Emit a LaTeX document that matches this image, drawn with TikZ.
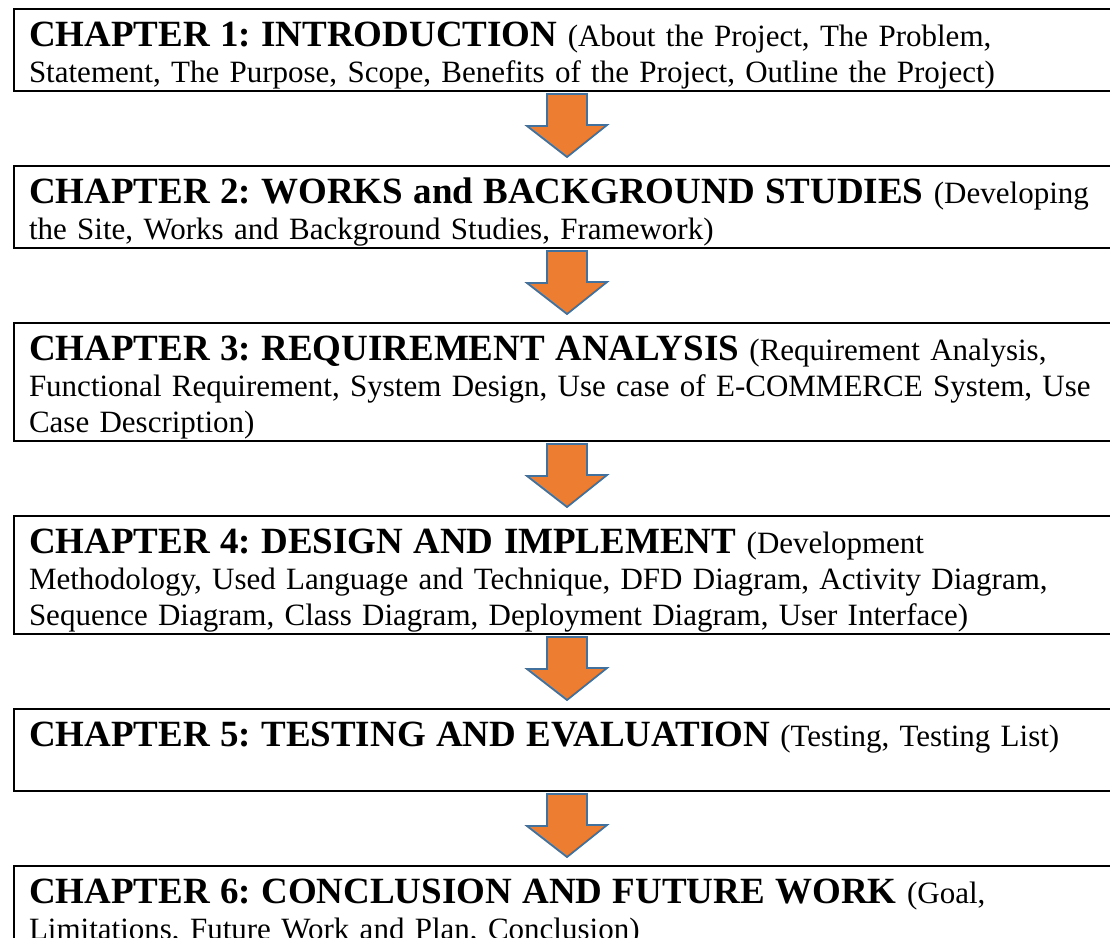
\documentclass[tikz,border=0pt]{standalone}
\usepackage{fontspec}
\setmainfont{Liberation Serif}
\usepackage{xcolor}
\usepackage{tikz}
\usetikzlibrary{positioning}

\definecolor{arroworange}{HTML}{ED7D31}
\definecolor{arrowblue}{HTML}{41719C}

\newcommand{\firstline}{\rule{0pt}{37pt}}
\newcommand{\lastline}{\rule[-9pt]{0pt}{9pt}}
\newcommand{\chaptitle}[1]{{\fontsize{37}{36}\selectfont\bfseries #1}}

\begin{document}
\begin{tikzpicture}[
    x=1pt, y=1pt, node distance=75pt,
    chapter/.style={rectangle, draw, line width=2.5pt, outer sep=0pt, anchor=north west, inner xsep=15pt, inner ysep=0pt, text width=1200pt, align=left, font=\fontsize{31}{36}\selectfont\frenchspacing},
    down/.style={draw=arrowblue, fill=arroworange, line width=1.8pt, line join=miter}
]
    \clip (0,0) rectangle (1110,-937);

    \node[chapter] (ch1) at (14,-9) {\firstline\chaptitle{CHAPTER 1: INTRODUCTION} (About the Project, The Problem,\\
        Statement, The Purpose, Scope, Benefits of the Project, Outline the Project)\lastline};
    \node[chapter, below=of ch1] (ch2) {\firstline\chaptitle{CHAPTER 2: WORKS and BACKGROUND STUDIES} (Developing\\
        the Site, Works and Background Studies, Framework)\lastline};
    \node[chapter, below=of ch2] (ch3) {\firstline\chaptitle{CHAPTER 3: REQUIREMENT ANALYSIS} (Requirement Analysis,\\
        Functional Requirement, System Design, Use case of E-COMMERCE System, Use\\
        Case Description)\lastline};
    \node[chapter, below=of ch3] (ch4) {\firstline\chaptitle{CHAPTER 4: DESIGN AND IMPLEMENT} (Development\\
        Methodology, Used Language and Technique, DFD Diagram, Activity Diagram,\\
        Sequence Diagram, Class Diagram, Deployment Diagram, User Interface)\lastline};
    \node[chapter, below=of ch4] (ch5) {\firstline\chaptitle{CHAPTER 5: TESTING AND EVALUATION} (Testing, Testing List)\\
        \lastline};
    \node[chapter, below=of ch5] (ch6) {\firstline\chaptitle{CHAPTER 6: CONCLUSION AND FUTURE WORK} (Goal,\\
        Limitations, Future Work and Plan, Conclusion)\lastline};

    % block arrows between the chapters
    \foreach \a/\b in {ch1/ch2, ch2/ch3, ch3/ch4, ch4/ch5, ch5/ch6}
        \draw[down] ([xshift=533pt, yshift=-3pt]\a.south west) -- ++(0,-32) -- ++(-20,0)
            -- ([xshift=553pt, yshift=9pt]\b.north west) -- ++(40,32) -- ++(-20,0)
            -- ([xshift=573pt, yshift=-3pt]\a.south west) -- cycle;
\end{tikzpicture}
\end{document}
